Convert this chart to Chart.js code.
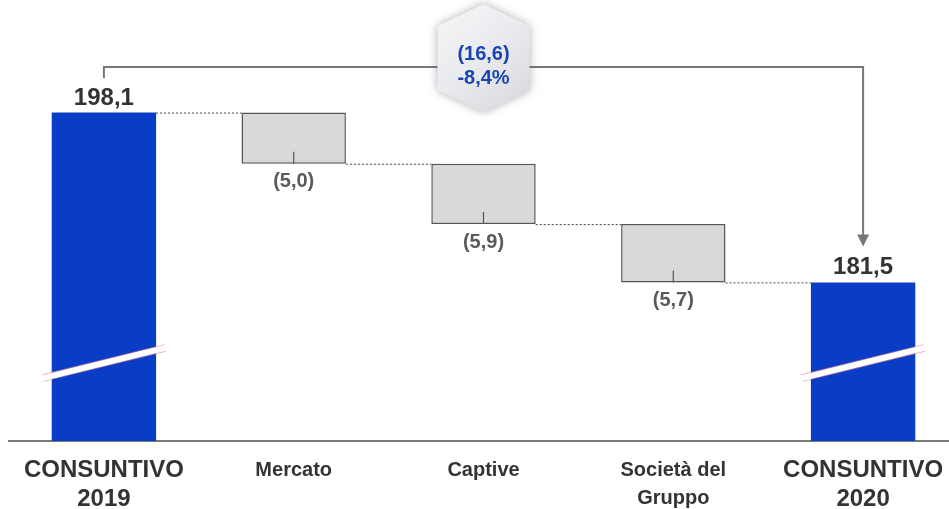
<!DOCTYPE html>
<html>
<head>
<meta charset="utf-8">
<script src="https://cdn.jsdelivr.net/npm/chart.js@4.4.1/dist/chart.umd.min.js"></script>
<style>
    html, body { margin: 0; padding: 0; background: #fff; overflow: hidden; }
    #bridgeChart { display: block; }
</style>
</head>
<body>
<canvas id="bridgeChart" width="960" height="509"></canvas>
<script>
// Bridge 2019 -> 2020
const categories = [['CONSUNTIVO', '2019'], 'Mercato', 'Captive', ['Società del', 'Gruppo'], ['CONSUNTIVO', '2020']];
const startValue = 198.1;
const endValue = 181.5;
const changes = [-5.0, -5.9, -5.7];
const valueLabels = ['198,1', '(5,0)', '(5,9)', '(5,7)', '181,5'];
const totalChangeLabels = ['(16,6)', '-8,4%'];
// broken value axis: bars start from here
const axisFloor = 166;
const axisCeil = 209.1;

const FONT = "'Liberation Sans', Arial, sans-serif";
const BLUE = '#0a3dc6';
const GREY = '#d9d9d9';

// floating bars for the waterfall
var bars = [[axisFloor, startValue]];
var running = startValue;
changes.forEach(function (c) {
    bars.push([running + c, running]);
    running += c;
});
bars.push([axisFloor, endValue]);

var isTotal = function (i) { return i === 0 || i === bars.length - 1; };

var bridgeDecor = {
    id: 'bridgeDecor',
    afterDatasetsDraw: function (chart) {
        var ctx = chart.ctx;
        var els = chart.getDatasetMeta(0).data;
        var boxes = els.map(function (el) {
            var p = el.getProps(['x', 'y', 'base', 'width'], true);
            return {
                x: p.x, left: p.x - p.width / 2, right: p.x + p.width / 2,
                top: Math.min(p.y, p.base), bottom: Math.max(p.y, p.base)
            };
        });

        ctx.save();

        // dotted connectors between consecutive bars
        ctx.strokeStyle = '#444';
        ctx.lineWidth = 1;
        ctx.setLineDash([2, 2]);
        for (var i = 0; i < boxes.length - 1; i++) {
            var yConn = i === 0 ? boxes[0].top : (isTotal(i + 1) ? boxes[i + 1].top : boxes[i].bottom);
            ctx.beginPath();
            ctx.moveTo(boxes[i].right, yConn + 0.5);
            ctx.lineTo(boxes[i + 1].left, yConn + 0.5);
            ctx.stroke();
        }
        ctx.setLineDash([]);

        // small centre tick inside the change bars
        ctx.strokeStyle = '#555';
        ctx.lineWidth = 1.2;
        boxes.forEach(function (b, i) {
            if (isTotal(i)) return;
            ctx.beginPath();
            ctx.moveTo(b.x, b.bottom - 12);
            ctx.lineTo(b.x, b.bottom);
            ctx.stroke();
        });

        // axis break marks on the total bars
        [0, boxes.length - 1].forEach(function (i) {
            var b = boxes[i];
            var x0 = b.left - 9, x1 = b.right + 9;
            var y0 = 378, y1 = 348;
            ctx.lineCap = 'butt';
            ctx.strokeStyle = 'rgba(230, 130, 150, 0.6)';
            ctx.lineWidth = 7.5;
            ctx.beginPath(); ctx.moveTo(x0, y0); ctx.lineTo(x1, y1); ctx.stroke();
            ctx.strokeStyle = '#ffffff';
            ctx.lineWidth = 6;
            ctx.beginPath(); ctx.moveTo(x0 - 1, y0 + 0.3); ctx.lineTo(x1 + 1, y1 - 0.3); ctx.stroke();
        });

        // value labels
        ctx.textAlign = 'center';
        boxes.forEach(function (b, i) {
            if (isTotal(i)) {
                ctx.font = 'bold 24px ' + FONT;
                ctx.fillStyle = '#333';
                ctx.textBaseline = 'alphabetic';
                ctx.fillText(valueLabels[i], b.x, b.top - 8);
            } else {
                ctx.font = 'bold 20px ' + FONT;
                ctx.fillStyle = '#5a5a5a';
                ctx.textBaseline = 'top';
                ctx.fillText(valueLabels[i], b.x, b.bottom + 8);
            }
        });

        // bracket with arrow from first to last total
        var first = boxes[0], last = boxes[boxes.length - 1];
        var yBr = chart.chartArea.top + 67;
        ctx.strokeStyle = '#777';
        ctx.lineWidth = 2;
        ctx.beginPath();
        ctx.moveTo(first.x, yBr + 11);
        ctx.lineTo(first.x, yBr);
        ctx.lineTo(last.x, yBr);
        ctx.lineTo(last.x, last.top - 46);
        ctx.stroke();
        ctx.fillStyle = '#777';
        ctx.beginPath();
        ctx.moveTo(last.x - 6, last.top - 48);
        ctx.lineTo(last.x + 6, last.top - 48);
        ctx.lineTo(last.x, last.top - 36);
        ctx.closePath();
        ctx.fill();

        // hexagon badge with the total change
        var cx = (boxes[2].x), cy = chart.chartArea.top + 58;
        var hw = 46, hh = 54, cut = 22;
        ctx.save();
        ctx.shadowColor = 'rgba(110, 110, 110, 0.55)';
        ctx.shadowBlur = 10;
        var grad = ctx.createLinearGradient(cx - hw, cy - hh, cx + hw, cy + hh);
        grad.addColorStop(0, '#f6f6f6');
        grad.addColorStop(0.5, '#e8eaee');
        grad.addColorStop(1, '#d6d8db');
        ctx.fillStyle = grad;
        ctx.beginPath();
        ctx.moveTo(cx, cy - hh);
        ctx.lineTo(cx + hw, cy - hh + cut);
        ctx.lineTo(cx + hw, cy + hh - cut);
        ctx.lineTo(cx, cy + hh);
        ctx.lineTo(cx - hw, cy + hh - cut);
        ctx.lineTo(cx - hw, cy - hh + cut);
        ctx.closePath();
        ctx.fill();
        ctx.restore();

        ctx.fillStyle = '#1c45b0';
        ctx.font = 'bold 20px ' + FONT;
        ctx.textBaseline = 'middle';
        ctx.fillText(totalChangeLabels[0], cx, cy - 4);
        ctx.fillText(totalChangeLabels[1], cx, cy + 20);

        ctx.restore();
    }
};

var ctxBridge = document.getElementById('bridgeChart').getContext('2d');
var bridgeChart = new Chart(ctxBridge, {
    type: 'bar',
    data: {
        labels: categories,
        datasets: [{
            data: bars,
            backgroundColor: bars.map(function (b, i) { return isTotal(i) ? BLUE : GREY; }),
            borderColor: bars.map(function (b, i) { return isTotal(i) ? BLUE : '#555'; }),
            borderWidth: bars.map(function (b, i) { return isTotal(i) ? 0 : 1.5; }),
            borderSkipped: false,
            barPercentage: 0.55,
            categoryPercentage: 1
        }]
    },
    options: {
        responsive: false,
        animation: false,
        devicePixelRatio: 1,
        layout: {
            padding: { left: 9, right: 2, top: 0, bottom: 0 }
        },
        plugins: {
            legend: { display: false },
            tooltip: { enabled: false }
        },
        scales: {
            y: {
                display: false,
                min: axisFloor,
                max: axisCeil
            },
            x: {
                grid: { display: false, drawTicks: false },
                border: { display: true, color: '#7a7a7a', width: 2 },
                ticks: {
                    color: '#333',
                    padding: 15,
                    maxRotation: 0,
                    autoSkip: false,
                    font: function (context) {
                        var big = context.index === 0 || context.index === categories.length - 1;
                        return big
                            ? { family: FONT, size: 24, weight: 'bold', lineHeight: 1.2 }
                            : { family: FONT, size: 20, weight: 'bold', lineHeight: 1.4 };
                    }
                },
                afterFit: function (scale) {
                    scale.height = 68;
                }
            }
        }
    },
    plugins: [bridgeDecor]
});
</script>
</body>
</html>
